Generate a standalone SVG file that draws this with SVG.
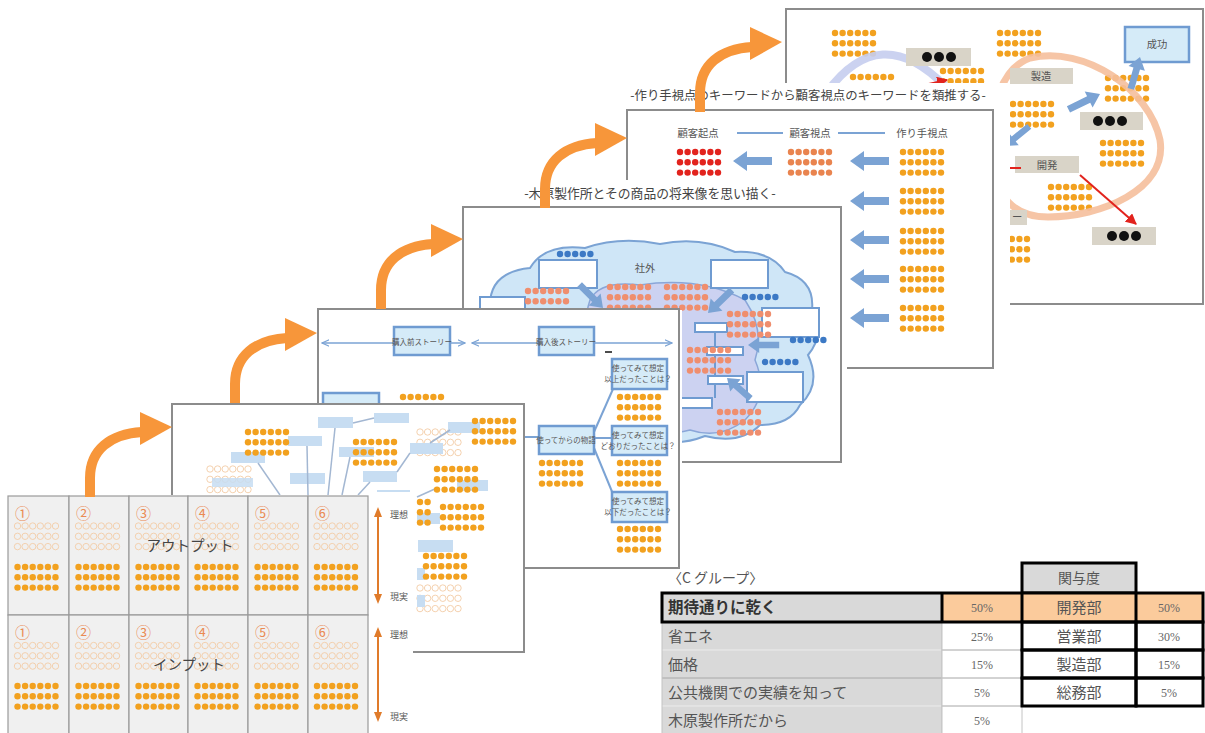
<svg xmlns="http://www.w3.org/2000/svg" width="1205" height="733" viewBox="0 0 1205 733">
<style>
text{font-family:"Noto Sans CJK JP","Noto Sans",sans-serif}
.frame{fill:#fff;stroke:#8c8c8c;stroke-width:2}
.wh{fill:#fff}
.or{fill:#f2a11f}
.sal{fill:#ef8e6e}
.red{fill:#e2231d}
.or2{fill:#e9844f}
.bl{fill:#3c79c5}
.blk{fill:#111}
.ol{fill:none;stroke:#f3cca6;stroke-width:0.9}
.bbox{fill:#d5ebf8;stroke:#6f9bd1;stroke-width:2.5}
.wbox{fill:#fff;stroke:#6f9bd1;stroke-width:2}
.lb{fill:#c7ddf2}
.ln{stroke:#a3b7d2;stroke-width:1.5;fill:none}
.beige{fill:#d9d4c8}
.barrow{fill:#7ba3d4}
.oarr{fill:none;stroke:#f7963a;stroke-width:10}
.ohead{fill:#f7963a}
.tt{font-size:12.4px;fill:#444}
.lbl{font-size:10.3px;fill:#555}
.sm{font-size:7.5px;fill:#555}
.num{font-size:15px;fill:#ea8a52}
.big{font-size:14.5px;fill:#444}
.side{font-size:9px;fill:#555}
.oline{stroke:#e07b2a;stroke-width:2}
.ohd{fill:#e07b2a}
.cell{fill:#f0f0f0;stroke:#9a9a9a;stroke-width:1.2}
.tg{fill:#d9d9d9}
.tor{fill:#fbcb9c}
.tw{fill:#fff}
.thick{fill:none;stroke:#000;stroke-width:3}
.thin{fill:none;stroke:#c4c4c4;stroke-width:1}
.tj{font-size:15px;fill:#555}
.tp{font-family:"Liberation Serif",serif;font-size:12px;fill:#666}
</style>
<defs>
<g id="d6"><circle cx="0" cy="0" r="3.2"/><circle cx="7.6" cy="0" r="3.2"/><circle cx="15.2" cy="0" r="3.2"/><circle cx="22.8" cy="0" r="3.2"/><circle cx="30.4" cy="0" r="3.2"/><circle cx="38" cy="0" r="3.2"/></g>
<g id="d63"><use href="#d6"/><use href="#d6" y="10.3"/><use href="#d6" y="20.6"/></g>
<g id="d5"><circle cx="0" cy="0" r="3.2"/><circle cx="7.6" cy="0" r="3.2"/><circle cx="15.2" cy="0" r="3.2"/><circle cx="22.8" cy="0" r="3.2"/><circle cx="30.4" cy="0" r="3.2"/></g>
<g id="k3"><circle cx="0" cy="0" r="5"/><circle cx="12" cy="0" r="5"/><circle cx="24" cy="0" r="5"/></g>
<polygon id="barw" points="0,0 14,-10 14,-4 39,-4 39,4 14,4 14,10"/>
<g id="oarrow"><path class="oarr" d="M 90 497 L 90 478 C 90 450 110 434 142 432"/><polygon class="ohead" points="140,412 172,427 140,445"/></g>
<marker id="ab" viewBox="0 0 10 10" refX="9" refY="5" markerUnits="userSpaceOnUse" markerWidth="8" markerHeight="8" orient="auto-start-reverse"><path d="M0,1 L9,5 L0,9" fill="none" stroke="#7ba3d4" stroke-width="1.5"/></marker>
<marker id="ar" viewBox="0 0 10 10" refX="9" refY="5" markerUnits="userSpaceOnUse" markerWidth="11" markerHeight="11" orient="auto"><path d="M0,0 L10,5 L0,10 Z" fill="#e2231d"/></marker>
</defs>

<!-- Slide 6 -->
<g id="slide6">
<rect class="frame" x="786" y="9" width="417" height="295"/>
<use href="#d63" class="or" x="835" y="33"/>
<use href="#d63" class="or" x="853" y="77"/>
<use href="#d63" class="or" x="943" y="71"/>
<use href="#d63" class="or" x="1000" y="33"/>
<path d="M 827 92 Q 880 20 945 86" fill="none" stroke="#c5cdee" stroke-width="8" opacity="0.9"/>
<line x1="915" y1="87" x2="947" y2="80" stroke="#e2231d" stroke-width="2" marker-end="url(#ar)"/>
<rect class="beige" x="906" y="48" width="65" height="18"/>
<use href="#k3" class="blk" x="927" y="57"/>
<use href="#d63" class="or" x="1108" y="78"/>
<use href="#d63" class="or" x="1013" y="104"/>
<use href="#d63" class="or" x="1103" y="143"/>
<use href="#d63" class="or" x="1051" y="187"/>
<use href="#d63" class="or" x="989" y="239"/>
<path d="M 1030 58 C 1085 45 1150 90 1160 140 C 1168 190 1100 217 1048 217 C 1005 217 990 185 992 140 C 993 100 1003 68 1030 58 Z" fill="none" stroke="#f5bf9c" stroke-width="7" opacity="0.9"/>
<rect class="beige" x="1010" y="68" width="63" height="16"/>
<text class="lbl" x="1041" y="80" text-anchor="middle">製造</text>
<rect class="bbox" x="1125" y="27" width="64" height="35" stroke-width="2"/>
<text class="lbl" x="1157" y="48" text-anchor="middle">成功</text>
<use href="#barw" class="barrow" transform="translate(1140,57) rotate(106) scale(0.85)"/>
<use href="#barw" class="barrow" transform="translate(1100,94) rotate(154) scale(0.9)"/>
<use href="#barw" class="barrow" transform="translate(1005,146) rotate(-39) scale(0.8)"/>
<rect class="beige" x="1080" y="112" width="63" height="18"/>
<use href="#k3" class="blk" x="1098" y="121"/>
<rect class="beige" x="1015" y="156" width="64" height="17"/>
<text class="lbl" x="1047" y="169" text-anchor="middle">開発</text>
<line x1="1005" y1="168" x2="1021" y2="168" stroke="#e2231d" stroke-width="2"/>
<line x1="1080" y1="175" x2="1136" y2="224" stroke="#e2231d" stroke-width="2" marker-end="url(#ar)"/>
<rect class="beige" x="995" y="210" width="32" height="15"/>
<text class="lbl" x="1012" y="221" font-size="8px">ー</text>
<rect class="beige" x="1092" y="227" width="64" height="18"/>
<use href="#k3" class="blk" x="1112" y="236"/>
</g>

<!-- Slide 5 -->
<g id="slide5">
<rect class="wh" x="618" y="83" width="392" height="287"/>
<text class="tt" x="808" y="100" text-anchor="middle">-作り手視点のキーワードから顧客視点のキーワードを類推する-</text>
<rect class="frame" x="627" y="110" width="366" height="258"/>
<text class="lbl" x="698" y="137" text-anchor="middle">顧客起点</text>
<text class="lbl" x="810" y="137" text-anchor="middle">顧客視点</text>
<text class="lbl" x="922" y="137" text-anchor="middle">作り手視点</text>
<line x1="737" y1="133" x2="783" y2="133" stroke="#7ba3d4" stroke-width="2"/>
<line x1="838" y1="133" x2="885" y2="133" stroke="#7ba3d4" stroke-width="2"/>
<use href="#d63" class="red" x="680" y="152"/>
<use href="#d63" class="or2" x="791" y="152"/>
<use href="#d63" class="or" x="903" y="152"/>
<use href="#d63" class="or" x="903" y="191"/>
<use href="#d63" class="or" x="903" y="231"/>
<use href="#d63" class="or" x="903" y="269"/>
<use href="#d63" class="or" x="903" y="308"/>
<use href="#barw" class="barrow" x="733" y="161"/>
<use href="#barw" class="barrow" x="850" y="161"/>
<use href="#barw" class="barrow" x="850" y="201"/>
<use href="#barw" class="barrow" x="850" y="240"/>
<use href="#barw" class="barrow" x="850" y="279"/>
<use href="#barw" class="barrow" x="850" y="318"/>
</g>

<!-- Slide 4 -->
<g id="slide4">
<rect class="wh" x="455" y="180" width="392" height="282"/>
<text class="tt" x="650" y="198" text-anchor="middle" style="font-size:12.8px">-木原製作所とその商品の将来像を思い描く-</text>
<rect class="frame" x="463" y="207" width="378" height="255"/>
<path d="M 490 305 Q 490 272 530 268 Q 545 243 585 248 Q 620 236 660 244 Q 700 236 735 252 Q 770 250 785 272 Q 815 280 812 310 Q 825 335 808 355 Q 822 385 800 405 Q 790 425 760 425 Q 740 445 705 436 Q 670 450 640 432 Q 600 445 570 425 Q 530 430 515 405 Q 480 400 485 370 Q 465 345 485 325 Q 478 312 490 305 Z" fill="#cfe6f7" stroke="#7ba3d4" stroke-width="2"/>
<path d="M 590 300 Q 600 280 640 285 Q 700 276 745 300 Q 765 330 755 360 Q 770 395 745 420 Q 720 440 690 430 Q 650 440 620 420 Q 590 400 595 360 Q 580 330 590 300 Z" fill="#ccd2f1" stroke="#8aa6d8" stroke-width="1.5"/>
<use href="#d5" class="bl" x="560" y="254"/>
<rect class="wbox" x="539" y="260" width="58" height="28"/>
<text class="lbl" x="645" y="272" text-anchor="middle">社外</text>
<rect class="wbox" x="711" y="260" width="57" height="28"/>
<rect class="wbox" x="480" y="297" width="45" height="23"/>
<use href="#d63" class="sal" x="528" y="291"/>
<use href="#d63" class="sal" x="610" y="287"/>
<use href="#d63" class="sal" x="667" y="287"/>
<use href="#d5" class="bl" x="745" y="297"/>
<rect class="wbox" x="762" y="308" width="57" height="29"/>
<line x1="715" y1="332" x2="715" y2="398" stroke="#6f9bd1" stroke-width="2"/>
<rect class="wbox" x="695" y="323" width="32" height="9"/>
<rect class="wbox" x="707" y="347" width="36" height="8"/>
<rect class="wbox" x="708" y="376" width="35" height="8"/>
<rect class="wbox" x="680" y="398" width="32" height="10"/>
<use href="#d63" class="sal" x="730" y="314"/>
<use href="#d63" class="sal" x="690" y="350"/>
<use href="#d5" class="bl" x="793" y="340"/>
<use href="#d5" class="bl" x="765" y="362"/>
<rect class="wbox" x="747" y="372" width="56" height="30"/>
<use href="#d63" class="sal" x="720" y="412"/>
<use href="#barw" class="barrow" transform="translate(603,308) rotate(225) scale(0.85)"/>
<use href="#barw" class="barrow" transform="translate(708,313) rotate(-44) scale(0.85)"/>
<use href="#barw" class="barrow" transform="translate(748,345) scale(0.8)"/>
<use href="#barw" class="barrow" transform="translate(727,378) rotate(41) scale(0.8)"/>
</g>

<!-- Slide 3 -->
<g id="slide3">
<rect class="frame" x="318" y="309" width="361" height="259"/>
<rect class="wh" x="680" y="310" width="2" height="257"/>
<line x1="322" y1="343" x2="465" y2="343" stroke="#7ba3d4" stroke-width="1.5" marker-start="url(#ab)" marker-end="url(#ab)"/>
<line x1="472" y1="343" x2="672" y2="343" stroke="#7ba3d4" stroke-width="1.5" marker-start="url(#ab)" marker-end="url(#ab)"/>
<rect class="bbox" x="394" y="327" width="56" height="28"/>
<text class="sm" x="422" y="345" text-anchor="middle">購入前ストーリー</text>
<rect class="bbox" x="539" y="327" width="55" height="28"/>
<text class="sm" x="566" y="345" text-anchor="middle">購入後ストーリー</text>
<line x1="605" y1="352" x2="612" y2="352" stroke="#111" stroke-width="1.5"/>
<rect class="bbox" x="323" y="393" width="56" height="27"/>
<use href="#d63" class="or" x="403" y="397"/>
<line x1="480" y1="437" x2="539" y2="437" stroke="#7ba3d4" stroke-width="2"/>
<line x1="594" y1="432" x2="613" y2="389" stroke="#7ba3d4" stroke-width="2"/>
<line x1="594" y1="438" x2="612" y2="438" stroke="#7ba3d4" stroke-width="2"/>
<line x1="594" y1="448" x2="613" y2="494" stroke="#7ba3d4" stroke-width="2"/>
<rect class="bbox" x="539" y="426" width="55" height="28"/>
<text class="sm" x="566" y="443" text-anchor="middle">使ってからの物語</text>
<rect class="bbox" x="612" y="359" width="55" height="30"/>
<text class="sm" x="638" y="371" text-anchor="middle">使ってみて想定</text>
<text class="sm" x="638" y="382" text-anchor="middle">以上だったことは？</text>
<rect class="bbox" x="612" y="426" width="55" height="29"/>
<text class="sm" x="638" y="438" text-anchor="middle">使ってみて想定</text>
<text class="sm" x="638" y="449" text-anchor="middle">どおりだったことは？</text>
<rect class="bbox" x="612" y="492" width="55" height="30"/>
<text class="sm" x="638" y="504" text-anchor="middle">使ってみて想定</text>
<text class="sm" x="638" y="515" text-anchor="middle">以下だったことは？</text>
<use href="#d63" class="or" x="620" y="397"/>
<use href="#d63" class="or" x="620" y="463"/>
<use href="#d63" class="or" x="620" y="529"/>
<use href="#d63" class="or" x="542" y="463"/>
</g>

<!-- Slide 2 -->
<g id="slide2">
<rect class="frame" x="172" y="404" width="352" height="248"/>
<use href="#d63" class="ol" x="210" y="469"/>
<use href="#d63" class="ol" x="420" y="432"/>
<use href="#d63" class="ol" x="420" y="588"/>
<rect class="lb" x="318" y="417" width="35" height="11"/>
<rect class="lb" x="374" y="413" width="35" height="10"/>
<rect class="lb" x="288" y="436" width="34" height="10"/>
<rect class="lb" x="339" y="447" width="35" height="10"/>
<rect class="lb" x="231" y="452" width="34" height="11"/>
<rect class="lb" x="290" y="473" width="35" height="11"/>
<rect class="lb" x="363" y="471" width="34" height="11"/>
<rect class="lb" x="410" y="443" width="33" height="11"/>
<rect class="lb" x="448" y="422" width="32" height="11"/>
<rect class="lb" x="212" y="478" width="41" height="9" opacity="0.85"/>
<rect class="lb" x="457" y="480" width="31" height="11"/>
<rect class="lb" x="377" y="490" width="33" height="2"/>
<rect class="lb" x="418" y="540" width="35" height="12"/>
<rect class="lb" x="417" y="513" width="23" height="11"/>
<rect class="lb" x="417" y="568" width="8" height="12"/>
<rect class="lb" x="417" y="595" width="8" height="12"/>
<line class="ln" x1="258" y1="463" x2="280" y2="495"/>
<line class="ln" x1="307" y1="446" x2="308" y2="495"/>
<line class="ln" x1="335" y1="428" x2="328" y2="495"/>
<line class="ln" x1="353" y1="423" x2="374" y2="418"/>
<line class="ln" x1="350" y1="457" x2="342" y2="495"/>
<line class="ln" x1="410" y1="453" x2="397" y2="472"/>
<line class="ln" x1="370" y1="482" x2="358" y2="495"/>
<line class="ln" x1="430" y1="443" x2="450" y2="430"/>
<line class="ln" x1="417" y1="497" x2="437" y2="488"/>
<use href="#d63" class="or" x="248" y="432"/>
<use href="#d63" class="or" x="356" y="442"/>
<use href="#d63" class="or" x="475" y="421"/>
<use href="#d63" class="or" x="437" y="469"/>
<use href="#d63" class="or" x="443" y="507"/>
<use href="#d63" class="or" x="426" y="556"/>
<g class="or"><circle cx="420" cy="502" r="3.2"/><circle cx="427.6" cy="502" r="3.2"/><circle cx="420" cy="512.3" r="3.2"/><circle cx="427.6" cy="512.3" r="3.2"/><circle cx="420" cy="522.6" r="3.2"/><circle cx="427.6" cy="522.6" r="3.2"/></g>
</g>

<!-- Slide 1: grid -->
<g id="slide1">
<rect class="wh" x="8" y="495" width="405" height="238"/>
<rect class="cell" x="8" y="496" width="61" height="119"/>
<rect class="cell" x="69" y="496" width="60" height="119"/>
<rect class="cell" x="129" y="496" width="59" height="119"/>
<rect class="cell" x="188" y="496" width="60" height="119"/>
<rect class="cell" x="248" y="496" width="60" height="119"/>
<rect class="cell" x="308" y="496" width="60" height="119"/>
<rect class="cell" x="8" y="615" width="61" height="120"/>
<rect class="cell" x="69" y="615" width="60" height="120"/>
<rect class="cell" x="129" y="615" width="59" height="120"/>
<rect class="cell" x="188" y="615" width="60" height="120"/>
<rect class="cell" x="248" y="615" width="60" height="120"/>
<rect class="cell" x="308" y="615" width="60" height="120"/>
<text class="num" x="15" y="519">①</text>
<text class="num" x="76" y="519">②</text>
<text class="num" x="136" y="519">③</text>
<text class="num" x="195" y="519">④</text>
<text class="num" x="255" y="519">⑤</text>
<text class="num" x="315" y="519">⑥</text>
<text class="num" x="15" y="638">①</text>
<text class="num" x="76" y="638">②</text>
<text class="num" x="136" y="638">③</text>
<text class="num" x="195" y="638">④</text>
<text class="num" x="255" y="638">⑤</text>
<text class="num" x="315" y="638">⑥</text>
<use href="#d63" class="ol" x="17.5" y="526"/>
<use href="#d63" class="ol" x="78.5" y="526"/>
<use href="#d63" class="ol" x="138.5" y="526"/>
<use href="#d63" class="ol" x="197.5" y="526"/>
<use href="#d63" class="ol" x="257.5" y="526"/>
<use href="#d63" class="ol" x="317" y="526"/>
<use href="#d63" class="or" x="17.5" y="567"/>
<use href="#d63" class="or" x="78.5" y="567"/>
<use href="#d63" class="or" x="138.5" y="567"/>
<use href="#d63" class="or" x="197.5" y="567"/>
<use href="#d63" class="or" x="257.5" y="567"/>
<use href="#d63" class="or" x="317" y="567"/>
<use href="#d63" class="ol" x="17.5" y="645.5"/>
<use href="#d63" class="ol" x="78.5" y="645.5"/>
<use href="#d63" class="ol" x="138.5" y="645.5"/>
<use href="#d63" class="ol" x="197.5" y="645.5"/>
<use href="#d63" class="ol" x="257.5" y="645.5"/>
<use href="#d63" class="ol" x="317" y="645.5"/>
<use href="#d63" class="or" x="17.5" y="686"/>
<use href="#d63" class="or" x="78.5" y="686"/>
<use href="#d63" class="or" x="138.5" y="686"/>
<use href="#d63" class="or" x="197.5" y="686"/>
<use href="#d63" class="or" x="257.5" y="686"/>
<use href="#d63" class="or" x="317" y="686"/>
<text class="big" x="190" y="551" text-anchor="middle">アウトプット</text>
<text class="big" x="189" y="670" text-anchor="middle">インプット</text>
<line class="oline" x1="378" y1="515" x2="378" y2="596"/>
<polygon class="ohd" points="378,507 374,517 382,517"/>
<polygon class="ohd" points="378,604 374,594 382,594"/>
<line class="oline" x1="378" y1="636" x2="378" y2="714"/>
<polygon class="ohd" points="378,627 374,637 382,637"/>
<polygon class="ohd" points="378,722 374,712 382,712"/>
<text class="side" x="390" y="518">理想</text>
<text class="side" x="390" y="600">現実</text>
<text class="side" x="390" y="638">理想</text>
<text class="side" x="390" y="720">現実</text>
</g>

<!-- Table -->
<g id="table">
<text x="668" y="583" style="font-size:14px;fill:#555">〈C グループ〉</text>
<rect class="tg" x="1022" y="563" width="114" height="30"/>
<rect class="thick" x="1022" y="563" width="114" height="30"/>
<text class="tj" x="1079" y="583" text-anchor="middle" style="font-size:14px">関与度</text>
<rect class="tg" x="662" y="593" width="280" height="29"/>
<rect class="tor" x="942" y="593" width="261" height="29"/>
<rect class="tg" x="662" y="622" width="280" height="112"/>
<line x1="662" y1="650" x2="942" y2="650" stroke="#ececec" stroke-width="1"/>
<line x1="662" y1="678" x2="942" y2="678" stroke="#a8a8a8" stroke-width="1"/>
<line x1="662" y1="706" x2="942" y2="706" stroke="#ececec" stroke-width="1"/>
<rect class="thin" x="662" y="622" width="280" height="112"/>
<rect class="tw" x="942" y="622" width="80" height="112"/>
<rect class="thin" x="942" y="622" width="80" height="28"/>
<rect class="thin" x="942" y="650" width="80" height="28"/>
<rect class="thin" x="942" y="678" width="80" height="28"/>
<rect class="thin" x="942" y="706" width="80" height="28"/>
<rect class="tw" x="1022" y="622" width="181" height="84"/>
<rect class="thick" x="662" y="593" width="541" height="29"/>
<line x1="942" y1="593" x2="942" y2="622" stroke="#000" stroke-width="3"/>
<line x1="1022" y1="593" x2="1022" y2="622" stroke="#000" stroke-width="3"/>
<line x1="1136" y1="593" x2="1136" y2="622" stroke="#000" stroke-width="3"/>
<rect class="thick" x="1022" y="622" width="114" height="28"/>
<rect class="thick" x="1136" y="622" width="67" height="28"/>
<rect class="thick" x="1022" y="650" width="114" height="28"/>
<rect class="thick" x="1136" y="650" width="67" height="28"/>
<rect class="thick" x="1022" y="678" width="114" height="28"/>
<rect class="thick" x="1136" y="678" width="67" height="28"/>
<text x="668" y="613" style="font-size:15.5px;font-weight:bold;fill:#333">期待通りに乾く</text>
<text class="tj" x="668" y="642">省エネ</text>
<text class="tj" x="668" y="670">価格</text>
<text class="tj" x="668" y="698">公共機関での実績を知って</text>
<text class="tj" x="668" y="726">木原製作所だから</text>
<text class="tp" x="982" y="612" text-anchor="middle">50%</text>
<text class="tp" x="982" y="641" text-anchor="middle">25%</text>
<text class="tp" x="982" y="669" text-anchor="middle">15%</text>
<text class="tp" x="982" y="697" text-anchor="middle">5%</text>
<text class="tp" x="982" y="725" text-anchor="middle">5%</text>
<text class="tj" x="1079" y="613" text-anchor="middle">開発部</text>
<text class="tj" x="1079" y="642" text-anchor="middle">営業部</text>
<text class="tj" x="1079" y="670" text-anchor="middle">製造部</text>
<text class="tj" x="1079" y="698" text-anchor="middle">総務部</text>
<text class="tp" x="1169" y="612" text-anchor="middle">50%</text>
<text class="tp" x="1169" y="641" text-anchor="middle">30%</text>
<text class="tp" x="1169" y="669" text-anchor="middle">15%</text>
<text class="tp" x="1169" y="697" text-anchor="middle">5%</text>
</g>

<!-- Connectors: orange step arrows -->
<g id="connectors">
<use href="#oarrow"/>
<use href="#oarrow" transform="translate(145,-94)"/>
<use href="#oarrow" transform="translate(291,-188)"/>
<use href="#oarrow" transform="translate(455,-289)"/>
<use href="#oarrow" transform="translate(610,-385)"/>
</g>
</svg>
